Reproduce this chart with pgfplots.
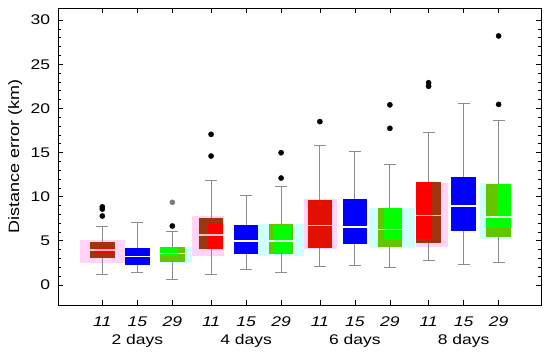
\documentclass[border=0pt]{standalone}
\usepackage{fontspec}
\setmainfont{Liberation Sans}
\usepackage{pgfplots}
\pgfplotsset{compat=1.18}
\usepgfplotslibrary{statistics}

\definecolor{cR}{RGB}{255,0,0}
\definecolor{cRd}{RGB}{160,52,14}
\definecolor{cR6}{RGB}{226,16,0}
\definecolor{cB}{RGB}{0,0,255}
\definecolor{cG}{RGB}{0,255,0}
\definecolor{cGd}{RGB}{100,196,0}
\definecolor{cPk}{RGB}{255,212,246}
\definecolor{cCy}{RGB}{208,255,255}
\definecolor{cWh}{RGB}{140,140,140}
\definecolor{medR}{RGB}{255,195,195}
\definecolor{medG}{RGB}{220,255,220}

% filled rectangle: x1 x2 y1 y2 colour
\newcommand{\rect}[5]{\addplot[draw=none,fill=#5,forget plot] coordinates {(#1,#3) (#2,#3) (#2,#4) (#1,#4)};}
% boxplot: pos lw lq med uq uw fill
\newcommand{\bp}[7]{\addplot[forget plot, draw=cWh, line width=1bp,
  boxplot/draw direction=y,
  boxplot prepared={draw position=#1, lower whisker=#2, lower quartile=#3,
  median=#4, upper quartile=#5, upper whisker=#6, box extend=0.7, whisker extend=0.34},
  boxplot/every box/.style={draw=none, fill=#7},
  boxplot/every median/.style={draw=none}] coordinates {};}
% median line: x1 x2 y colour
\newcommand{\med}[4]{\addplot[forget plot, draw=#4, line width=1.2bp] coordinates {(#1,#3) (#2,#3)};}

\begin{document}
\begin{tikzpicture}
\begin{axis}[
  width=482.7bp, height=296.7bp, scale only axis,
  xmin=-1.257, xmax=12.53, ymin=-2.264, ymax=31.33,
  axis line style={line width=0.9bp},
  ytick={0,5,...,30}, minor y tick num=4,
  xtick={0,1,2,3.107,4.107,5.107,6.214,7.214,8.214,9.32,10.32,11.32},
  xticklabels={\textit{11},{\textit{15}\\2 days},\textit{29},
               \textit{11},{\textit{15}\\4 days},\textit{29},
               \textit{11},{\textit{15}\\6 days},\textit{29},
               \textit{11},{\textit{15}\\8 days},\textit{29}},
  tick align=inside,
  major tick length=5bp, minor tick length=3bp,
  tick style={black, line width=0.7bp},
  /pgf/number format/assume math mode=true,
  ticklabel style={font=\fontsize{14bp}{18.7bp}\selectfont, xscale=1.25},
  xticklabel style={align=center, yshift=-8bp},
  yticklabel style={xshift=-3bp},
  ylabel={Distance error (km)},
  every axis y label/.style={at={(axis description cs:-0.089,0.5)}, rotate=90, anchor=center,
     font=\fontsize{15bp}{18bp}\selectfont, xscale=1.2},
]
% shadows
\rect{-0.64}{0.65}{2.5}{5.1}{cPk}
\rect{2.557}{3.487}{3.3}{7.8}{cPk}
\rect{5.774}{6.694}{4.1}{9.7}{cPk}
\rect{8.96}{9.87}{4.27}{11.5}{cPk}
\rect{1.67}{2.57}{2.45}{4.34}{cCy}
\rect{4.457}{5.747}{3.3}{6.9}{cCy}
\rect{7.604}{8.944}{4.2}{8.7}{cCy}
\rect{10.8}{11.7}{5.17}{11.5}{cCy}
% boxes
\bp{0}{1.21}{3.09}{3.96}{4.83}{6.68}{cRd}
\bp{1}{1.43}{2.23}{3.25}{4.15}{7.1}{cB}
\bp{2}{0.64}{2.64}{3.59}{4.27}{6.04}{cGd}
\bp{3.107}{1.17}{4.08}{5.66}{7.55}{11.85}{cR}
\bp{4.107}{1.77}{3.47}{4.98}{6.79}{10.19}{cB}
\bp{5.107}{1.47}{3.47}{4.98}{6.87}{11.2}{cGd}
\bp{6.214}{2.08}{4.23}{6.75}{9.62}{15.85}{cR6}
\bp{7.214}{2.23}{4.68}{6.57}{9.7}{15.13}{cB}
\bp{8.214}{2.0}{4.34}{6.3}{8.75}{13.7}{cG}
\bp{9.32}{2.79}{4.72}{7.85}{11.7}{17.28}{cR}
\bp{10.32}{2.34}{6.15}{8.94}{12.27}{20.5}{cB}
\bp{11.32}{2.53}{5.47}{7.7}{11.4}{18.68}{cG}
% two-tone parts
\rect{-0.21}{0.31}{3.59}{4.27}{cR}
\rect{1.646}{2.143}{3.32}{4.27}{cG}
\rect{2.757}{3.027}{4.08}{7.55}{cRd}
\rect{2.757}{3.457}{6.98}{7.55}{cRd}
\rect{4.877}{5.377}{3.6}{6.8}{cG}
\rect{7.864}{8.044}{4.34}{8.75}{cGd}
\rect{7.864}{8.564}{4.34}{5.05}{cGd}
\rect{9.406}{9.67}{4.72}{11.7}{cRd}
\rect{8.97}{9.67}{4.72}{5.17}{cRd}
\rect{10.97}{11.27}{7.74}{11.4}{cGd}
\rect{10.97}{11.67}{5.47}{6.4}{cGd}
% medians
\med{-0.35}{0.35}{3.96}{medR}
\med{0.65}{1.35}{3.25}{white}
\med{1.65}{2.35}{3.59}{medG}
\med{2.757}{3.457}{5.66}{medR}
\med{3.757}{4.457}{4.98}{white}
\med{4.757}{5.457}{4.98}{medG}
\med{5.864}{6.564}{6.75}{medR}
\med{6.864}{7.564}{6.57}{white}
\med{7.864}{8.564}{6.3}{medG}
\med{8.97}{9.67}{7.85}{medR}
\med{9.97}{10.67}{8.94}{white}
\med{10.97}{11.67}{7.7}{medG}
% outliers
\addplot[forget plot, only marks, mark=*, mark size=2.6bp, black] coordinates {
 (0,8.85) (0,8.6) (0,7.81) (2,6.68) (3.107,14.6) (3.107,17.06)
 (5.107,12.11) (5.107,14.98) (6.214,18.5) (8.214,17.74) (8.214,20.4)
 (9.32,22.5) (9.32,22.9) (11.32,20.45) (11.32,28.2)};
\addplot[forget plot, only marks, mark=*, mark size=2.6bp, color={rgb,255:red,125;green,125;blue,125}] coordinates {(2,9.36)};
\coordinate (ll) at (rel axis cs:0,0);
\coordinate (ur) at (rel axis cs:1,1);
\end{axis}
\pgfresetboundingbox
\path ([shift={(-58.3bp,-53bp)}]ll) rectangle ([shift={(9bp,8.3bp)}]ur);
\end{tikzpicture}
\end{document}
